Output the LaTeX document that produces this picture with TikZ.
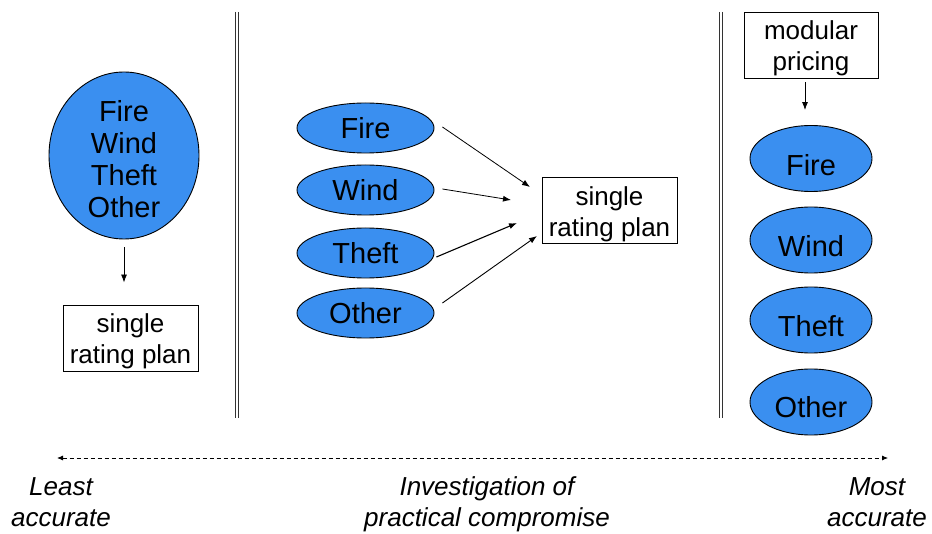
\documentclass[tikz,border=0pt]{standalone}
\usepackage{fontspec}
\setmainfont{Liberation Sans}
\usetikzlibrary{shapes.geometric,arrows.meta,calc}
\definecolor{ellblue}{RGB}{58,143,240}
\begin{document}
\begin{tikzpicture}[x=1pt,y=-1pt,
  ell/.style={ellipse,draw=black,line width=0.9pt,fill=ellblue,inner sep=0pt},
  bigfont/.style={font=\fontsize{29}{32}\selectfont},
  boxfont/.style={font=\fontsize{26}{31}\selectfont},
  plan/.style={draw=black,line width=0.9pt,fill=white,minimum width=135pt,minimum height=66pt,inner sep=0pt},
  plantext/.style={boxfont,align=center,inner sep=0pt,yshift=-3.5pt},
  arr/.style={line width=0.8pt,-{Latex[length=8pt,width=6pt]}},
  divider/.style={line width=1pt,black!80},
  axis/.style={line width=0.8pt,dash pattern=on 4.5pt off 2.5pt,{Latex[length=6pt,width=5pt]}-{Latex[length=6pt,width=5pt]}},
  caption/.style={align=center,inner sep=0pt,font=\fontsize{26}{31}\selectfont\itshape}]
\useasboundingbox (0,0) rectangle (932,534);

% dividers
\draw[divider] (235.5,12) -- (235.5,418);
\draw[divider] (238.5,12) -- (238.5,418);
\draw[divider] (719.5,12) -- (719.5,418);
\draw[divider] (722.5,12) -- (722.5,418);

% left column
\node[ell,minimum width=150pt,minimum height=167pt,
  label={[bigfont,align=center,inner sep=0pt,yshift=-4pt]center:Fire\\Wind\\Theft\\Other}] (big) at (124,155.5) {};
\node[plan,label={[plantext]center:single\\rating plan}] (lbox) at (130.5,338) {};
\draw[arr,shorten <=8pt,shorten >=22pt] (big.south) -- (big.south |- lbox.north);

% middle column
\node[ell,minimum width=137pt,minimum height=50pt,bigfont] (mfire) at (365.5,128) {Fire};
\node[ell,minimum width=137pt,minimum height=50pt,bigfont] (mwind) at (365.5,190) {Wind};
\node[ell,minimum width=137pt,minimum height=50pt,bigfont] (mtheft) at (365.5,253) {Theft};
\node[ell,minimum width=137pt,minimum height=50pt,bigfont] (mother) at (365.5,313) {Other};
\node[plan,label={[plantext]center:single\\rating plan}] (mbox) at (609.5,210.5) {};
\coordinate (t1) at (530,187);
\coordinate (t2) at (511,200);
\coordinate (t3) at (517,223);
\coordinate (t4) at (537,236);
\draw[arr] ($(mfire.east)+(8,-1)$) -- (t1);
\draw[arr] ($(mwind.east)+(8,-1)$) -- (t2);
\draw[arr,line width=1.1pt] ($(mtheft.east)+(2,4)$) -- (t3);
\draw[arr,line width=0.9pt] ($(mother.east)+(8,-10)$) -- (t4);

% right column
\node[plan,minimum width=134pt,label={[plantext]center:modular\\pricing}] (mod) at (811,45) {};
\node[ell,minimum width=122pt,minimum height=66pt,label={[bigfont,yshift=-6.5pt]center:Fire}] (rfire) at (811,158.5) {};
\node[ell,minimum width=122pt,minimum height=66pt,label={[bigfont,yshift=-6.5pt]center:Wind}] (rwind) at (811,240) {};
\node[ell,minimum width=122pt,minimum height=66pt,label={[bigfont,yshift=-6.5pt]center:Theft}] (rtheft) at (811,320) {};
\node[ell,minimum width=122pt,minimum height=66pt,label={[bigfont,yshift=-5.5pt]center:Other}] (rother) at (811,402) {};
\draw[arr,shorten <=4pt,shorten >=15pt] ([xshift=-6pt]mod.south) -- ([xshift=-6pt]rfire.north);

% accuracy axis
\coordinate (axl) at (57,458);
\coordinate (axr) at (888,458);
\draw[axis] (axl) -- (axr);
\node[caption,anchor=base] (least) at (61,526) {Least\\accurate};
\node[caption,anchor=base] (mid) at (487,526) {Investigation of\\practical compromise};
\node[caption,anchor=base] (most) at (877,526) {Most\\accurate};
\end{tikzpicture}
\end{document}
